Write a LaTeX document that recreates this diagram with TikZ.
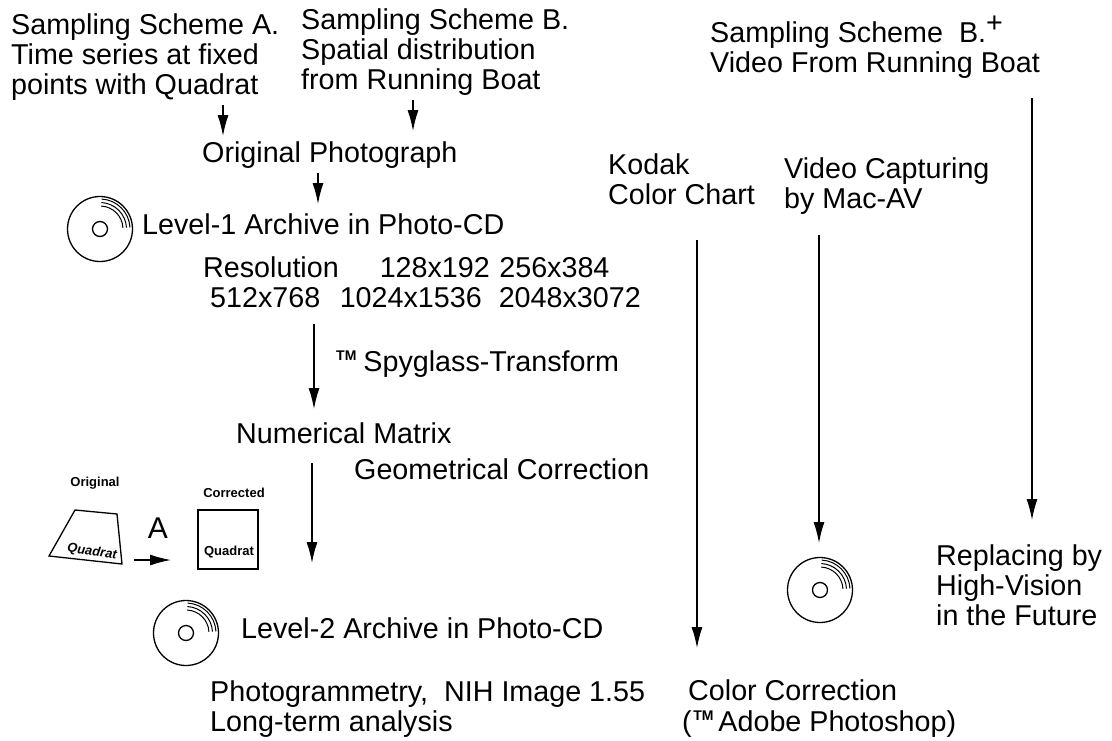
\documentclass[tikz,border=0pt]{standalone}
\usepackage{fontspec}
\setmainfont{Liberation Sans}
\usetikzlibrary{arrows.meta}
\tikzset{
  lbl/.style={inner sep=0pt,align=left,anchor=base west,font=\fontsize{28.7}{30}\selectfont},
  tiny/.style={inner sep=0pt,font=\bfseries\fontsize{13}{15}\selectfont},
  arr/.style={-{Latex[length=21pt,width=11pt]},line width=1.3pt},
  outl/.style={line width=1.3pt}
}
\newcommand{\cdisc}[1]{%
  \draw[outl] (#1) circle (32.5);
  \draw[outl] (#1) circle (7.5);
  \foreach \rr in {23,26.5,30} \draw[line width=1pt] ([shift={(-3:\rr)}]#1) arc (-3:-87:\rr);
}
\newcommand{\tmark}{\raisebox{11pt}{\fontsize{14}{14}\selectfont\bfseries TM}}
\begin{document}
\begin{tikzpicture}[x=1pt,y=-1pt]
\useasboundingbox (0,0) rectangle (1112,740);

% sampling schemes
\node[lbl] (schemeA) at (11,94) {Sampling Scheme A.\\Time series at fixed\\points with Quadrat};
\node[lbl] (schemeB) at (301,89) {Sampling Scheme B.\\Spatial distribution\\from Running Boat};
\node[lbl] (schemeC) at (710,72) {Sampling Scheme\ \ B.\raisebox{10pt}{+}\\Video From Running Boat};

% left column
\node[lbl] (photo) at (202,162) {Original Photograph};
\node[lbl] (level1) at (142,234) {Level-1 Archive in Photo-CD};
\node[lbl] (res) at (203,307) {Resolution\hspace{41pt}128x192\hspace{9.5pt}256x384\\\hspace*{7pt}512x768\hspace{19.5pt}1024x1536\hspace{17pt}2048x3072};
\node[lbl] (spy) at (336,371) {\tmark\hspace{7pt}Spyglass-Transform};
\node[lbl] (matrix) at (236,443) {Numerical Matrix};
\node[lbl] (geom) at (354,479) {Geometrical Correction};
\node[lbl] (level2) at (241,638) {Level-2 Archive in Photo-CD};
\node[lbl] (photogram) at (210,731) {Photogrammetry,\ \ NIH Image 1.55\\Long-term analysis};

% right columns
\node[lbl] (kodak) at (608,204) {Kodak\\Color Chart};
\node[lbl] (video) at (784,208) {Video Capturing\\by Mac-AV};
\node[lbl] (future) at (936,625) {Replacing by\\High-Vision\\in the Future};
\node[lbl] (color) at (688,700) {Color Correction};
\node[lbl] (adobe) at (682,731) {(\hspace{1.5pt}\tmark\hspace{5pt}Adobe Photoshop)};

% quadrats
\node[tiny] (orig) at (95,483) {Original};
\node[tiny] (corr) at (234,493) {Corrected};
\node[tiny,rotate=-8] (quad1) at (92,552) {\itshape Quadrat};
\node[tiny] (quad2) at (229,552) {Quadrat};
\node[lbl,anchor=center,font=\fontsize{30}{30}\selectfont] (letA) at (158,528) {A};
\draw[outl] (75,510) -- (117,514) -- (122,564) -- (49,556) -- cycle;
\draw[outl] (198,510) rectangle (258,569);

% discs
\coordinate (disc1) at (100,229);
\coordinate (disc2) at (186,633);
\coordinate (disc3) at (820,590);
\cdisc{disc1}
\cdisc{disc2}
\cdisc{disc3}

% arrows
\coordinate (xa) at (223,0);
\coordinate (xb) at (413,0);
\coordinate (xc) at (318,0);
\coordinate (xd) at (314,0);
\coordinate (e2) at (312,563);
\coordinate (f1) at (134,560);
\coordinate (f2) at (171,560);
\coordinate (g2) at (697,648);
\coordinate (h2) at (819,543);
\coordinate (i2) at (1032,520);
\draw[arr,shorten <=5pt,shorten >=5pt] (schemeA.south -| xa) -- (photo.north -| xa);
\draw[arr,shorten <=5pt,shorten >=10pt] (schemeB.south -| xb) -- (photo.north -| xb);
\draw[arr,shorten <=5pt,shorten >=9pt] (photo.south -| xc) -- (level1.north -| xc);
\draw[arr,shorten <=17pt,shorten >=13pt] (res.south -| xd) -- (matrix.north -| xd);
\draw[arr,shorten <=20pt] (matrix.south -| e2) -- (e2);
\draw[arr] (f1) -- (f2);
\draw[arr,shorten <=36pt] (kodak.south -| g2) -- (g2);
\draw[arr,shorten <=21pt] (video.south -| h2) -- (h2);
\draw[arr,shorten <=20pt] (schemeC.south -| i2) -- (i2);
\end{tikzpicture}
\end{document}
